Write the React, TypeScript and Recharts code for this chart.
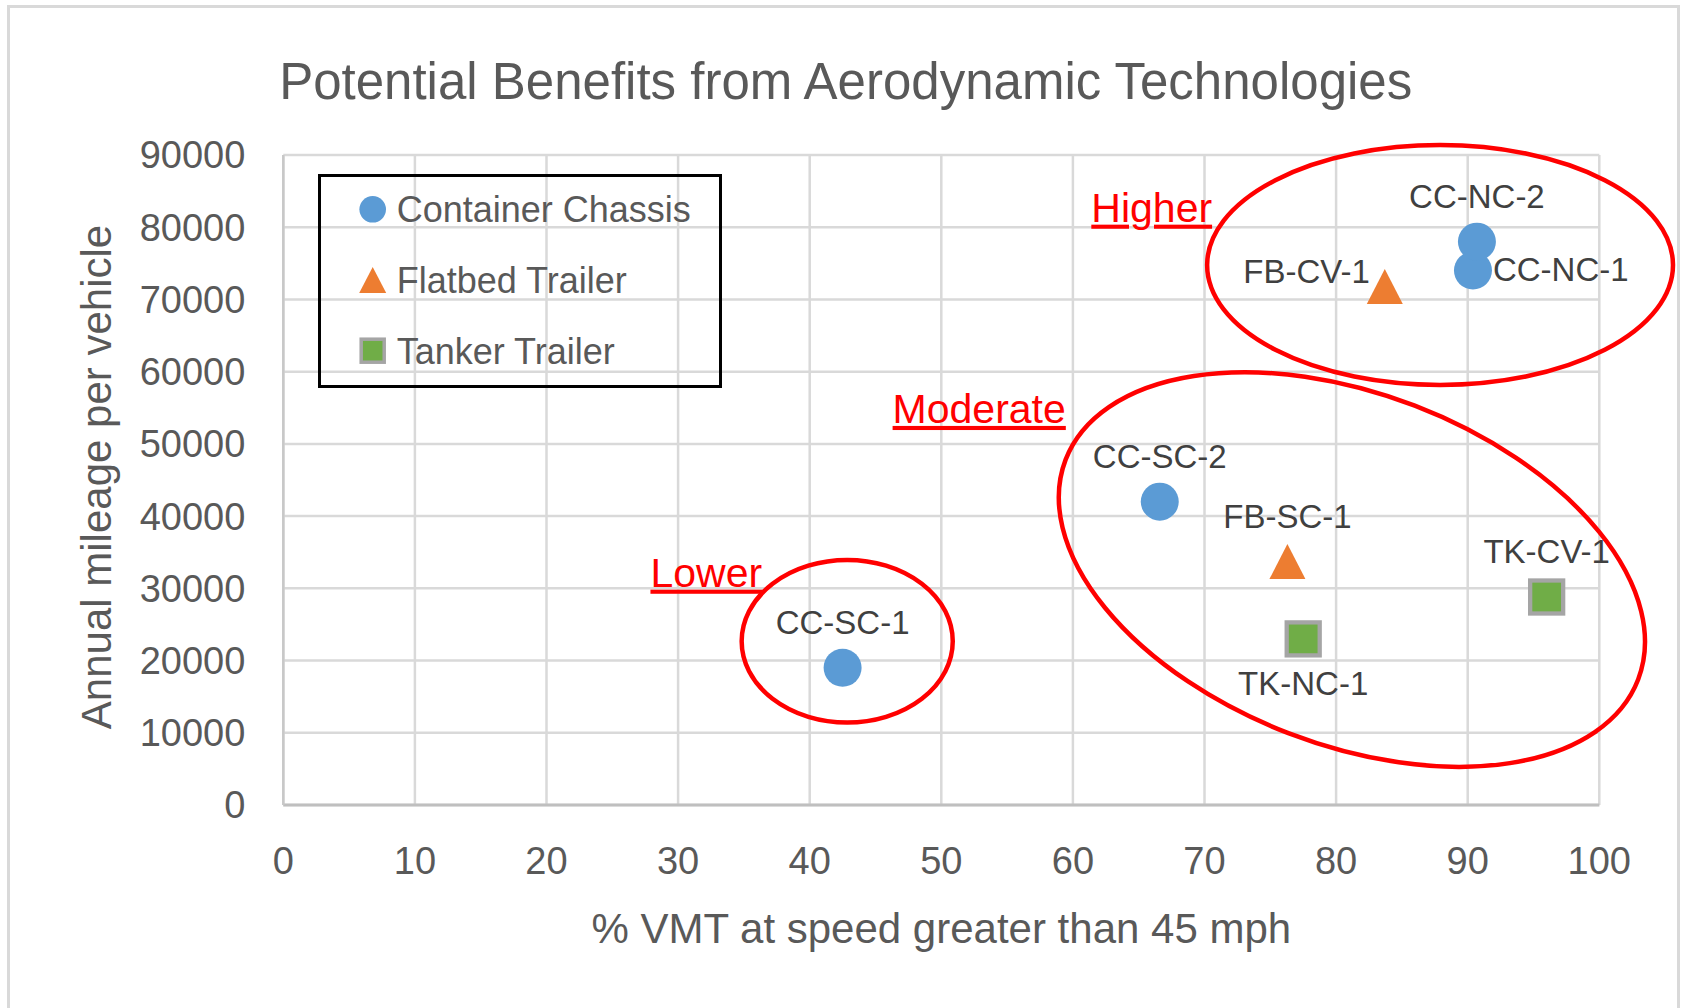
import React from 'react';
import {
  ScatterChart,
  Scatter,
  XAxis,
  YAxis,
  CartesianGrid,
  ReferenceArea,
  ReferenceDot,
  Legend,
} from 'recharts';

// ---------- data ----------
const seriesNames = ['Container Chassis', 'Flatbed Trailer', 'Tanker Trailer'];

const containerX = [42.5, 66.6, 90.4, 90.7];
const containerY = [19000, 42000, 74000, 78000];
const containerLabels = ['CC-SC-1', 'CC-SC-2', 'CC-NC-1', 'CC-NC-2'];
const containerLabelPos = ['top', 'top', 'right', 'top'];

const flatbedX = [76.3, 83.7];
const flatbedY = [33700, 71800];
const flatbedLabels = ['FB-SC-1', 'FB-CV-1'];
const flatbedLabelPos = ['top', 'left'];

const tankerX = [77.5, 96.0];
const tankerY = [23000, 28800];
const tankerLabels = ['TK-NC-1', 'TK-CV-1'];
const tankerLabelPos = ['bottom', 'top'];

const xTicks = [0, 10, 20, 30, 40, 50, 60, 70, 80, 90, 100];
const yTicks = [0, 10000, 20000, 30000, 40000, 50000, 60000, 70000, 80000, 90000];

const titleText = 'Potential Benefits from Aerodynamic Technologies';
const xAxisTitle = '% VMT at speed greater than 45 mph';
const yAxisTitle = 'Annual mileage per vehicle';

// group annotations (data coordinates)
const groupNames = ['Higher', 'Moderate', 'Lower'];
const groupTextX = [61.4, 46.3, 27.9];
const groupTextY = [80770, 52900, 30230];
const groupCenterX = [87.9, 81.2, 42.85];
const groupCenterY = [74770, 32600, 22670];
const groupHalfX = [17.7, 23.3, 8.02];
const groupHalfY = [16600, 24300, 11260];
const groupTilt = [0, 21, 0];

// ---------- build tables ----------
const build = (xs: number[], ys: number[], labels: string[], pos: string[]) =>
  xs.map((x, i) => ({ x, y: ys[i], label: labels[i], pos: pos[i] }));

const containerData = build(containerX, containerY, containerLabels, containerLabelPos);
const flatbedData = build(flatbedX, flatbedY, flatbedLabels, flatbedLabelPos);
const tankerData = build(tankerX, tankerY, tankerLabels, tankerLabelPos);

// ---------- styles ----------
const FONT = "'Liberation Sans', Arial, sans-serif";
const BLUE = '#5b9bd5';
const ORANGE = '#ed7d31';
const GREEN = '#70ad47';
const SQUARE_EDGE = '#a5a5a5';
const TEXT_GRAY = '#595959';
const LABEL_GRAY = '#404040';
const RED = '#ff0000';

function PointLabel({ cx, cy, text, pos }: any) {
  let x = cx;
  let y = cy - 34;
  let anchor: any = 'middle';
  if (pos === 'bottom') {
    y = cy + 56;
  } else if (pos === 'left') {
    x = cx - 15;
    y = cy - 3;
    anchor = 'end';
  } else if (pos === 'right') {
    x = cx + 20;
    y = cy + 10;
    anchor = 'start';
  }
  return (
    <text x={x} y={y} textAnchor={anchor} fontFamily={FONT} fontSize={33} fill={LABEL_GRAY}>
      {text}
    </text>
  );
}

const circleShape = (props: any) => {
  const { cx, cy, payload } = props;
  return (
    <g>
      <circle cx={cx} cy={cy} r={19} fill={BLUE} />
      <PointLabel cx={cx} cy={cy} text={payload.label} pos={payload.pos} />
    </g>
  );
};

const triangleShape = (props: any) => {
  const { cx, cy, payload } = props;
  const pts = `${cx},${cy - 17.5} ${cx + 18},${cy + 17.5} ${cx - 18},${cy + 17.5}`;
  return (
    <g>
      <polygon points={pts} fill={ORANGE} />
      <PointLabel cx={cx} cy={cy} text={payload.label} pos={payload.pos} />
    </g>
  );
};

const squareShape = (props: any) => {
  const { cx, cy, payload } = props;
  return (
    <g>
      <rect x={cx - 16.5} y={cy - 16.5} width={33} height={33} fill={GREEN} stroke={SQUARE_EDGE} strokeWidth={4.3} />
      <PointLabel cx={cx} cy={cy} text={payload.label} pos={payload.pos} />
    </g>
  );
};

const ellipseShape = (tilt: number) => (props: any) => {
  const { x, y, width, height } = props;
  const cx = x + width / 2;
  const cy = y + height / 2;
  return (
    <ellipse
      cx={cx}
      cy={cy}
      rx={Math.abs(width) / 2}
      ry={Math.abs(height) / 2}
      fill="none"
      stroke={RED}
      strokeWidth={4.5}
      transform={`rotate(${tilt} ${cx} ${cy})`}
    />
  );
};

const groupTextShape = (text: string) => (props: any) => {
  const { cx, cy } = props;
  return (
    <text
      x={cx}
      y={cy}
      fontFamily={FONT}
      fontSize={41}
      fill={RED}
      textDecoration="underline"
      style={{ textDecoration: 'underline' }}
    >
      {text}
    </text>
  );
};

function LegendBox() {
  const rows = [32.3, 103, 173.7];
  const mx = 51.7;
  const tx = 75.7;
  return (
    <div
      style={{
        width: 404,
        height: 214,
        boxSizing: 'border-box',
        border: '3px solid #000',
        background: 'transparent',
      }}
    >
      <svg width={398} height={208} style={{ display: 'block' }}>
        <circle cx={mx} cy={rows[0]} r={13.3} fill={BLUE} />
        <polygon
          points={`${mx},${rows[1] - 13} ${mx + 13.5},${rows[1] + 13} ${mx - 13.5},${rows[1] + 13}`}
          fill={ORANGE}
        />
        <rect x={mx - 11.5} y={rows[2] - 11.5} width={23} height={23} fill={GREEN} stroke={SQUARE_EDGE} strokeWidth={3.5} />
        {seriesNames.map((n, i) => (
          <text key={n} x={tx} y={rows[i] + 13} fontFamily={FONT} fontSize={36} fill={TEXT_GRAY}>
            {n}
          </text>
        ))}
      </svg>
    </div>
  );
}

export default function App() {
  return (
    <div
      style={{
        position: 'absolute',
        left: 0,
        top: 0,
        width: 1686,
        height: 1008,
        background: '#fff',
        overflow: 'hidden',
      }}
    >
      <div
        style={{
          position: 'absolute',
          left: 7,
          top: 5,
          width: 1673,
          height: 1100,
          boxSizing: 'border-box',
          border: '3px solid #d9d9d9',
        }}
      />
      <div
        style={{
          position: 'absolute',
          left: 245.7,
          top: 56,
          width: 1200,
          textAlign: 'center',
          whiteSpace: 'nowrap',
          fontFamily: FONT,
          fontSize: 51,
          lineHeight: '51px',
          color: TEXT_GRAY,
        }}
      >
        {titleText}
      </div>
      <div style={{ position: 'absolute', left: 0, top: 0 }}>
        <ScatterChart
          width={1686}
          height={1008}
          margin={{ top: 155, right: 86.7, bottom: 163, left: 203.3 }}
        >
          <CartesianGrid stroke="#d9d9d9" strokeWidth={2.5} />
          <XAxis
            type="number"
            dataKey="x"
            domain={[0, 100]}
            ticks={xTicks}
            interval={0}
            height={40}
            tickSize={0}
            tickMargin={41.7}
            tickLine={false}
            axisLine={{ stroke: '#bfbfbf', strokeWidth: 3 }}
            tick={{ fill: TEXT_GRAY, fontSize: 38, fontFamily: FONT }}
            label={{
              content: (p: any) => {
                const vb = p.viewBox || { x: 283.3, y: 805, width: 1316, height: 40 };
                return (
                  <text
                    x={vb.x + vb.width / 2}
                    y={vb.y + 138}
                    textAnchor="middle"
                    fontFamily={FONT}
                    fontSize={42}
                    fill={TEXT_GRAY}
                  >
                    {xAxisTitle}
                  </text>
                );
              },
            }}
          />
          <YAxis
            type="number"
            dataKey="y"
            domain={[0, 90000]}
            ticks={yTicks}
            interval={0}
            width={80}
            tickSize={0}
            tickMargin={38}
            tickLine={false}
            axisLine={{ stroke: '#c8c8c8', strokeWidth: 2.5 }}
            tick={{ fill: TEXT_GRAY, fontSize: 38, fontFamily: FONT }}
            label={{
              content: (p: any) => {
                const vb = p.viewBox || { x: 203.3, y: 155, width: 80, height: 650 };
                const lx = vb.x + vb.width - 172.3;
                const ly = vb.y + vb.height / 2 - 3;
                return (
                  <text
                    x={lx}
                    y={ly}
                    textAnchor="middle"
                    transform={`rotate(-90 ${lx} ${ly})`}
                    fontFamily={FONT}
                    fontSize={42}
                    fill={TEXT_GRAY}
                  >
                    {yAxisTitle}
                  </text>
                );
              },
            }}
          />
          <Legend
            layout="vertical"
            align="center"
            verticalAlign="middle"
            wrapperStyle={{ position: 'absolute', left: 318, top: 174, width: 404, height: 214, margin: 0, padding: 0 }}
            content={() => <LegendBox />}
          />
          {groupNames.map((g, i) => (
            <ReferenceArea
              key={`area-${g}`}
              x1={groupCenterX[i] - groupHalfX[i]}
              x2={groupCenterX[i] + groupHalfX[i]}
              y1={groupCenterY[i] - groupHalfY[i]}
              y2={groupCenterY[i] + groupHalfY[i]}
              ifOverflow="visible"
              shape={ellipseShape(groupTilt[i])}
            />
          ))}
          {groupNames.map((g, i) => (
            <ReferenceDot
              key={`text-${g}`}
              x={groupTextX[i]}
              y={groupTextY[i]}
              r={0}
              ifOverflow="visible"
              shape={groupTextShape(g)}
            />
          ))}
          <Scatter name={seriesNames[0]} data={containerData} shape={circleShape} isAnimationActive={false} />
          <Scatter name={seriesNames[1]} data={flatbedData} shape={triangleShape} isAnimationActive={false} />
          <Scatter name={seriesNames[2]} data={tankerData} shape={squareShape} isAnimationActive={false} />
        </ScatterChart>
      </div>
    </div>
  );
}
